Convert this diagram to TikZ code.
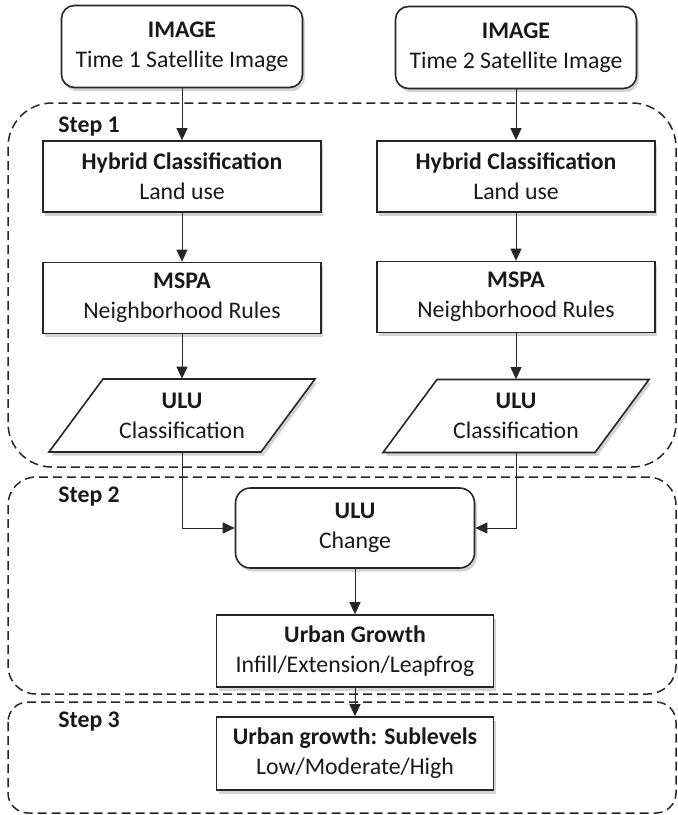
\documentclass[tikz,border=0pt]{standalone}
\usepackage{fontspec}
\setmainfont{Carlito}
\usetikzlibrary{positioning, arrows.meta, shadows, calc}

\begin{document}
\begin{tikzpicture}[x=0.5pt, y=-0.5pt,
    every node/.style={font=\fontsize{11.9}{15}\selectfont, text=black!90, align=center, inner sep=2pt},
    shadowed/.style={drop shadow={shadow xshift=1.2pt, shadow yshift=-1.8pt, opacity=0.35}},
    procbox/.style={draw=black!85, line width=0.8pt, fill=white, shadowed, minimum width=139pt, minimum height=35.5pt},
    imgbox/.style={procbox, rounded corners=6.5pt, minimum width=120.5pt, minimum height=41pt},
    flow/.style={draw=black!85, line width=0.5pt, -{Triangle[length=6pt, width=5.5pt]}},
    stepframe/.style={draw=black!85, line width=0.75pt, dash pattern=on 4.5pt off 2.5pt},
    steplabel/.style={anchor=west, font=\fontsize{11.9}{15}\selectfont\bfseries}
]
    \useasboundingbox (0,0) rectangle (677,815);

    % Step frames
    \foreach \top/\bot/\rad in {103/467/22, 477/694/14, 702/813/10}
        \draw[stepframe, rounded corners=\rad pt] (8,\top) rectangle (676,\bot);
    \foreach \n/\y in {1/127, 2/497, 3/722}
        \node[steplabel] (step\n) at (54,\y) {Step \n};

    % Input images
    \node[imgbox] (img1) at (182,46.5) {\textbf{IMAGE}\\Time 1 Satellite Image};
    \node[imgbox] (img2) at (516,47.5) {\textbf{IMAGE}\\Time 2 Satellite Image};

    % Step 1
    \node[procbox] (hyb1) at (182,176.5) {\textbf{Hybrid Classification}\\Land use};
    \node[procbox] (hyb2) at (516,176.5) {\textbf{Hybrid Classification}\\Land use};
    \node[procbox] (mspa1) at (182,298) {\textbf{MSPA}\\Neighborhood Rules};
    \node[procbox] (mspa2) at (516,297) {\textbf{MSPA}\\Neighborhood Rules};

    \coordinate (ulu1c) at (182,415.5);
    \coordinate (ulu2c) at (516,416);
    \foreach \c in {ulu1c, ulu2c}
        \draw[draw=black!85, line width=0.8pt, fill=white, shadowed]
            ($(\c)+(-79,-36.5)$) -- ($(\c)+(133,-36.5)$) -- ($(\c)+(79,36.5)$) -- ($(\c)+(-133,36.5)$) -- cycle;
    \node[minimum width=106pt, minimum height=36.5pt] (ulu1) at (ulu1c) {\textbf{ULU}\\Classification};
    \node[minimum width=106pt, minimum height=36.5pt] (ulu2) at (ulu2c) {\textbf{ULU}\\Classification};

    % Step 2
    \node[imgbox, minimum width=119.5pt, minimum height=40pt, rounded corners=7.5pt] (change) at (355,528) {\textbf{ULU}\\Change};
    \node[procbox, minimum width=138.5pt, minimum height=36pt] (growth) at (355,651) {\textbf{Urban Growth}\\Infill/Extension/Leapfrog};

    % Step 3
    \node[procbox, minimum width=138.5pt, minimum height=36.5pt] (sublev) at (355,753.5) {\textbf{Urban growth: Sublevels}\\Low/Moderate/High};

    % Connectors
    \draw[flow] (img1) -- (hyb1);
    \draw[flow] (img2) -- (hyb2);
    \draw[flow] (hyb1) -- (mspa1);
    \draw[flow] (hyb2) -- (mspa2);
    \draw[flow] (mspa1) -- (ulu1);
    \draw[flow] (mspa2) -- (ulu2);
    \draw[flow] (ulu1.south) |- (change.west);
    \draw[flow] (ulu2.south) |- (change.east);
    \draw[flow] (change) -- (growth);
    \draw[flow] (growth) -- (sublev);
\end{tikzpicture}
\end{document}
